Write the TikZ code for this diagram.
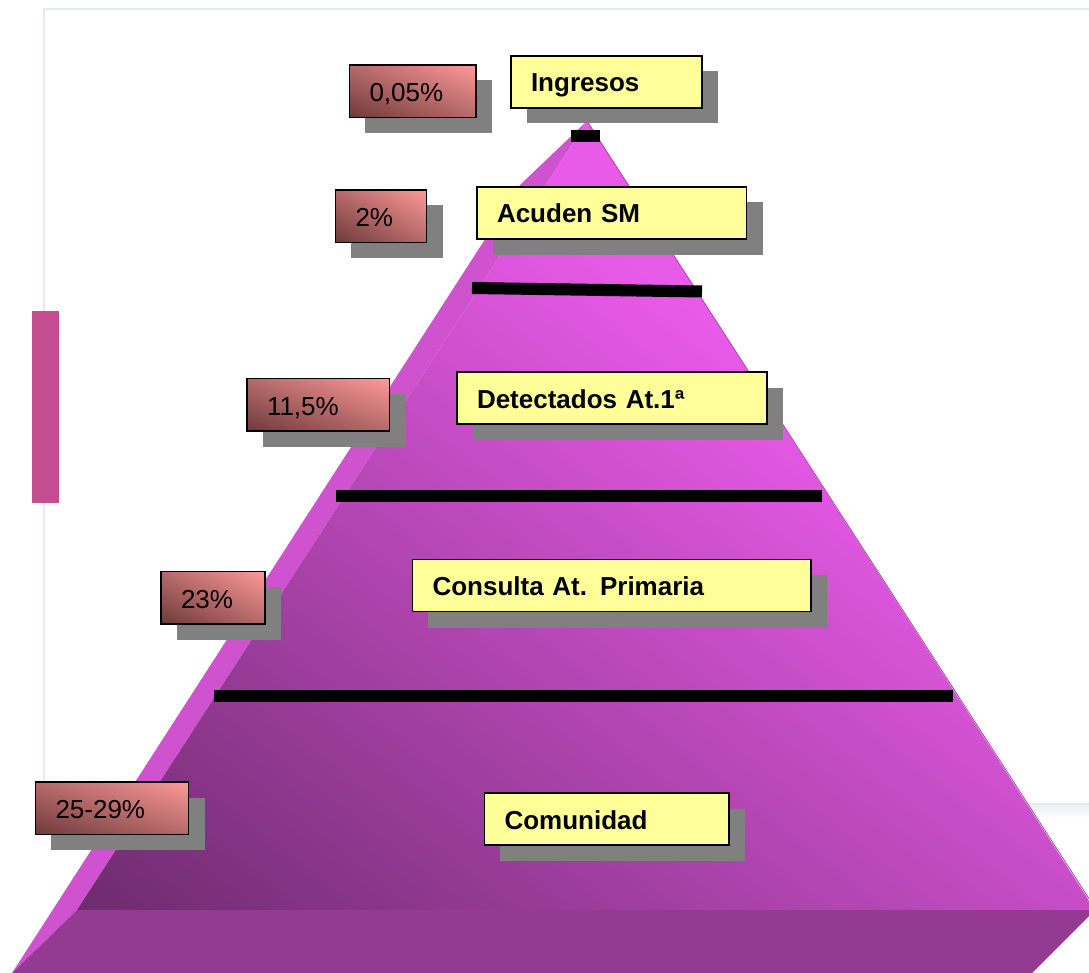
\documentclass[tikz,border=0pt]{standalone}
\usepackage{fontspec}
\setmainfont{Liberation Sans}
\definecolor{frame}{HTML}{E6E9F3}
\definecolor{sidebar}{HTML}{C44C90}
\definecolor{strip}{HTML}{CF52CF}
\definecolor{band}{HTML}{953A93}
\definecolor{facedark}{HTML}{702C70}
\definecolor{facelight}{HTML}{E85AE8}
\definecolor{edge}{HTML}{A83CA8}
\definecolor{shadowc}{HTML}{808080}
\definecolor{yel}{HTML}{FFFF99}
\definecolor{pinklight}{HTML}{FF9999}
\definecolor{pinkdark}{HTML}{6E3A3A}
\definecolor{fade}{HTML}{ECEEF0}
\pgfdeclareverticalshading{facegrad}{3000bp}{color(0bp)=(facedark); color(177bp)=(facedark); color(1005bp)=(facelight); color(1400bp)=(facelight)}
\pgfdeclareverticalshading{pctgrad}{100bp}{color(0bp)=(pinkdark); color(100bp)=(pinklight)}
\tikzset{
  labelbox/.style={draw=black,line width=1.9pt,fill=yel,anchor=north west,inner xsep=20pt,inner ysep=0pt,outer sep=0pt,align=left,text depth=16pt,text height=36pt,font=\fontsize{26pt}{26pt}\selectfont\bfseries},
  pctbox/.style={draw=black,line width=1.9pt,anchor=north west,inner xsep=20pt,inner ysep=0pt,outer sep=0pt,align=left,text depth=16pt,text height=36.5pt,font=\fontsize{26pt}{26pt}\selectfont},
  bar/.style={line width=12pt,black},
  shadowbox/.style={fill=shadowc},
  gradnode/.style={inner sep=0pt,outer sep=0pt}
}
% x0 y0 x1 y1 name text
\newcommand{\yellbl}[6]{%
  \fill[shadowbox] (#1+15.5,#2+15.5) rectangle (#3+16,#4+16);
  \pgfmathsetmacro{\tw}{#3-#1-40}
  \node[labelbox,text width=\tw pt] (#5) at (#1,#2) {#6};
}
\newcommand{\pctlbl}[6]{%
  \fill[shadowbox] (#1+15.5,#2+15.5) rectangle (#3+16,#4+16);
  \pgfmathsetmacro{\tw}{#3-#1-40}
  \pgfmathsetmacro{\bw}{#3-#1}
  \pgfmathsetmacro{\bh}{#4-#2}
  \pgfmathsetmacro{\bd}{veclen(\bw,\bh)}
  \pgfmathsetmacro{\ang}{atan2(\bh,\bw)}
  \pgfmathsetmacro{\sy}{2*(\bw/\bd)*\bh/100}
  \pgfmathsetmacro{\sx}{1.3*\bd/100}
  \begin{scope}
    \clip (#1,#2) rectangle (#3,#4);
    \node[gradnode,rotate=-\ang,xscale=\sx,yscale=\sy] (#5g) at ({(#1+#3)/2},{(#2+#4)/2}) {\pgfuseshading{pctgrad}};
  \end{scope}
  \node[pctbox,text width=\tw pt] (#5) at (#1,#2) {#6};
}
\begin{document}
\begin{tikzpicture}[x=1pt,y=-1pt]
\useasboundingbox (0,0) rectangle (1089,973);
\clip (0,0) rectangle (1089,973);
\fill[white] (0,0) rectangle (1089,973);
% frame
\shade[top color=fade,bottom color=white,shading=axis] (44,804) rectangle (1100,818);
\draw[frame,line width=2.5pt] (44,804) -- (44,9) -- (1100,9);
\draw[frame,line width=2.5pt] (900,804) -- (1100,804);
\fill[sidebar] (32,311) rectangle (59,503);
% pyramid
\fill[strip] (587,121) -- (520,185) -- (12,973) -- (77,910) -- cycle;
\begin{scope}
  \clip (587,121) -- (77,910) -- (1095,910) -- cycle;
  \node[gradnode,rotate=-38] (face) at (538.4,578.8) {\pgfuseshading{facegrad}};
\end{scope}
\fill[band] (77,910) -- (1095,910) -- (1032,973) -- (12,973) -- cycle;
\draw[edge,line width=0.8pt] (587,121) -- (1095,908);
% bars
\coordinate (b1l) at (571,136); \coordinate (b1r) at (600,136);
\coordinate (b2l) at (472,288); \coordinate (b2r) at (702,291.5);
\coordinate (b3l) at (336,496); \coordinate (b3r) at (821.5,496);
\coordinate (b4l) at (214,696); \coordinate (b4r) at (953,696);
\draw[bar] (b1l) -- (b1r);
\draw[bar] (b2l) -- (b2r);
\draw[bar] (b3l) -- (b3r);
\draw[bar] (b4l) -- (b4r);
% labels
\yellbl{511}{56}{702}{107}{ingresos}{Ingresos}
\yellbl{477}{187}{746.5}{239}{acuden}{Acuden SM}
\yellbl{457}{372}{767}{424}{detectados}{Detectados At.1ª}
\yellbl{412.5}{559.5}{811}{612}{consulta}{Consulta At. Primaria}
\yellbl{484.5}{793}{729}{845}{comunidad}{Comunidad}
\pctlbl{349.5}{65}{476}{117}{p1}{0,05\%}
\pctlbl{335.5}{190}{426.5}{242}{p2}{2\%}
\pctlbl{247}{378.5}{389.5}{431}{p3}{11,5\%}
\pctlbl{161}{571.5}{265}{623.5}{p4}{23\%}
\pctlbl{35.5}{782}{188.5}{834}{p5}{25-29\%}
\end{tikzpicture}
\end{document}
